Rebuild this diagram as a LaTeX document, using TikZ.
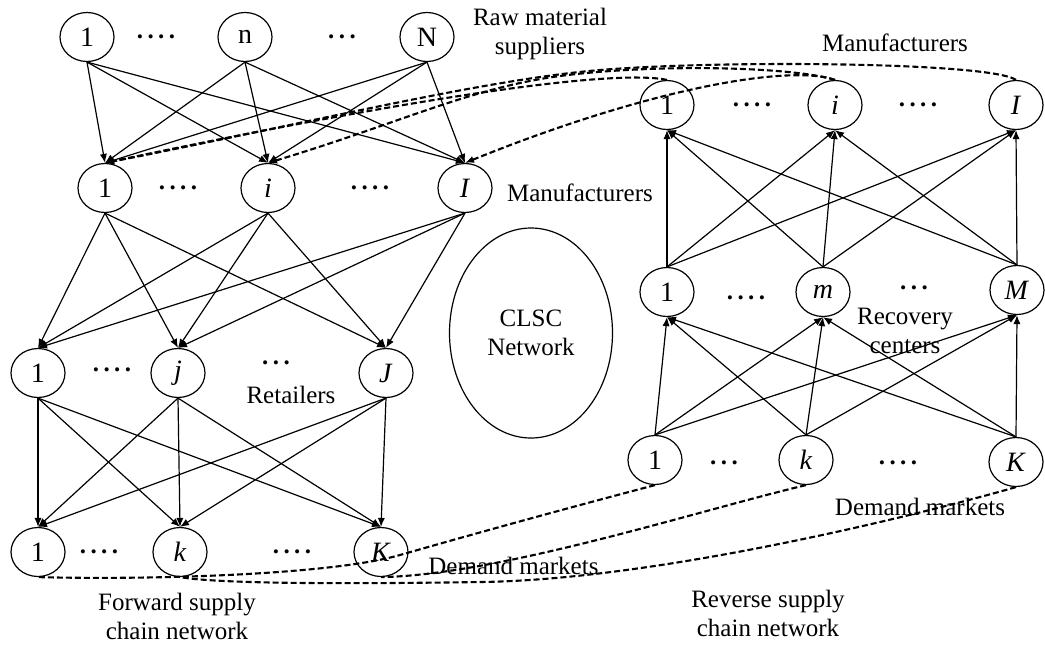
\documentclass[tikz,border=0pt]{standalone}
\usepackage{fontspec}
\setmainfont{Liberation Serif}
\usetikzlibrary{shapes.geometric,arrows.meta}
\newcommand{\dotsfour}{.\hspace{2.2pt}.\hspace{2.2pt}.\hspace{2.2pt}.}
\newcommand{\dotsthree}{.\hspace{2.2pt}.\hspace{2.2pt}.}
\begin{document}
\begin{tikzpicture}[x=0.5pt,y=-0.5pt,
  nd/.style={draw,ellipse,minimum width=27pt,minimum height=24.5pt,inner sep=0pt,line width=0.6pt,font=\fontsize{14}{15}\selectfont},
  lbl/.style={font=\fontsize{12.5}{14.5}\selectfont,align=center,inner sep=0pt},
  dts/.style={font=\fontsize{12.5}{12.5}\selectfont\bfseries,inner sep=0pt},
  arr/.style={line width=0.6pt,-{Latex[length=4.5pt,width=3.6pt]}},
  dsh/.style={line width=1.05pt,dash pattern=on 3pt off 1.5pt},
  dsharr/.style={dsh,-{Latex[length=4.5pt,width=3.6pt]}},
]
\useasboundingbox (0,0) rectangle (1045,650);

% raw material suppliers
\node[nd] (s1) at (87,37) {1};
\node[nd] (sn) at (245,37) {n};
\node[nd] (sN) at (427,37) {N};
\node[dts] (sd1) at (156,37) {\dotsfour};
\node[dts] (sd2) at (342,37) {\dotsthree};
\node[lbl] (lraw) at (540,34) {Raw material\\suppliers};

% forward manufacturers
\node[nd] (m1) at (105,188) {1};
\node[nd] (mi) at (268,188) {\textit{i}};
\node[nd] (mI) at (465,188) {\textit{I}};
\node[dts] (md1) at (178,188) {\dotsfour};
\node[dts] (md2) at (370,188) {\dotsfour};
\node[lbl] (lman) at (580,193) {Manufacturers};

% retailers
\node[nd] (r1) at (38,373) {1};
\node[nd] (rj) at (178,373) {\textit{j}};
\node[nd] (rJ) at (386,373) {\textit{J}};
\node[dts] (rd1) at (112,370) {\dotsfour};
\node[dts] (rd2) at (276,363) {\dotsthree};
\node[lbl] (lret) at (291,395) {Retailers};

% forward demand markets
\node[nd] (d1) at (38,552) {1};
\node[nd] (dk) at (180,552) {\textit{k}};
\node[nd] (dK) at (381,552) {\textit{K}};
\node[dts] (dd1) at (99,552) {\dotsfour};
\node[dts] (dd2) at (292,552) {\dotsfour};
\node[lbl,anchor=west] (ldem) at (428,566) {Demand markets};

% CLSC
\node[draw,ellipse,line width=0.6pt,minimum width=81.5pt,minimum height=105pt,lbl] (clsc) at (531,333) {CLSC\\Network};

\node[lbl] (lfwd) at (177,616) {Forward supply\\chain network};
\node[lbl] (lrev) at (768,613) {Reverse supply\\chain network};

% reverse manufacturers
\node[nd] (R1) at (667,105) {1};
\node[nd] (Ri) at (835,105) {\textit{i}};
\node[nd] (RI) at (1016,105) {\textit{I}};
\node[dts] (Rd1) at (752,105) {\dotsfour};
\node[dts] (Rd2) at (918,105) {\dotsfour};
\node[lbl] (lman2) at (895,43) {Manufacturers};

% recovery centers
\node[nd] (c1) at (667,292) {1};
\node[nd] (cm) at (823,292) {\textit{m}};
\node[nd] (cM) at (1017,290) {\textit{M}};
\node[dts] (cd1) at (746,298) {\dotsfour};
\node[dts] (cd2) at (914,288) {\dotsthree};
\node[lbl] (lrec) at (905,331) {Recovery\\centers};

% reverse demand markets
\node[nd] (e1) at (655,460) {1};
\node[nd] (ek) at (806,460) {\textit{k}};
\node[nd] (eK) at (1016,462) {\textit{K}};
\node[dts] (ed1) at (724,463) {\dotsthree};
\node[dts] (ed2) at (898,463) {\dotsfour};
\node[lbl] (ldem2) at (920,507) {Demand markets};

% forward arrows
\foreach \a in {s1,sn,sN} \foreach \b in {m1,mi,mI} \draw[arr] (\a.south) -- (\b.north);
\foreach \a in {m1,mi,mI} \foreach \b in {r1,rj,rJ} \draw[arr] (\a.south) -- (\b.north);
\foreach \a in {r1,rj,rJ} \foreach \b in {d1,dk,dK} \draw[arr] (\a.south) -- (\b.north);

% reverse arrows
\foreach \a in {c1,cm,cM} \foreach \b in {R1,Ri,RI} \draw[arr] (\a.north) -- (\b.south);
\foreach \a in {e1,ek,eK} \foreach \b in {c1,cm,cM} \draw[arr] (\a.north) -- (\b.south);

% dashed links between manufacturers
\draw[dsharr] (R1.north) .. controls (620,70) and (450,90) .. (m1.north);
\draw[dsharr] (RI.north) .. controls (990,62) and (720,60) .. (600,70) .. controls (480,80) and (300,125) .. (m1.north);
\draw[dsharr] (Ri.north) .. controls (790,66) and (650,64) .. (560,76) .. controls (470,88) and (400,123) .. (mi.north);
\draw[dsharr] (Ri.north) .. controls (790,64) and (650,88) .. (mI.north);

% dashed links between demand markets
\draw[dsh] (e1.south) .. controls (560,510) and (470,535) .. (400,555) .. controls (330,575) and (150,580) .. (d1.south);
\draw[dsh] (ek.south) .. controls (700,510) and (500,575) .. (dK.south);
\draw[dsh] (eK.south) .. controls (900,520) and (650,580) .. (480,582) .. controls (350,584) and (220,584) .. (dk.south);
\end{tikzpicture}
\end{document}
